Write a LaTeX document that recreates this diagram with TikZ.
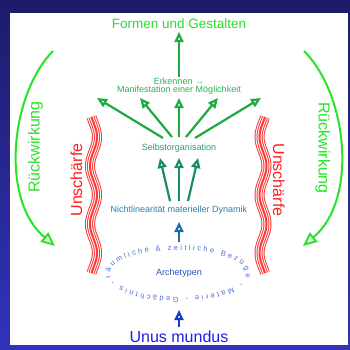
\documentclass[tikz,border=0pt]{standalone}
\usepackage{fontspec}
\setmainfont{Liberation Sans}
\usetikzlibrary{arrows.meta,decorations.text}
\definecolor{bgtop}{RGB}{28,28,106}
\definecolor{bgbot}{RGB}{50,50,188}
\definecolor{rgreen}{RGB}{40,228,40}
\definecolor{cform}{RGB}{45,220,45}
\definecolor{cerk}{RGB}{40,180,80}
\definecolor{carr}{RGB}{30,170,65}
\definecolor{cselb}{RGB}{45,155,110}
\definecolor{carrs}{RGB}{25,140,105}
\definecolor{cnicht}{RGB}{45,130,175}
\definecolor{carrn}{RGB}{25,110,160}
\definecolor{carch}{RGB}{45,80,190}
\definecolor{celltext}{RGB}{80,110,215}
\definecolor{carru}{RGB}{20,60,190}
\definecolor{cunus}{RGB}{30,30,232}
\definecolor{cred}{RGB}{255,30,30}
\definecolor{wred}{RGB}{255,55,55}
\begin{document}
\begin{tikzpicture}[x=1pt,y=-1pt,
  lbl/.style={inner sep=0pt, anchor=base},
  small/.style={font=\fontsize{9}{11}\selectfont},
  big/.style={font=\fontsize{16}{19}\selectfont},
  arr/.style={line width=2.2pt, -{Triangle[length=10pt,width=9pt,fill=white]}},
  rueck/.style={draw=rgreen, line width=2pt, -{Triangle[length=14pt,width=12pt,fill=white]}}]
\useasboundingbox (0,0) rectangle (350,349);
\shade[top color=bgtop, bottom color=bgbot] (0,0) rectangle (350,349);
\fill[white] (10,13) rectangle (348,345);

% texts
\node[lbl, font=\fontsize{13.5}{16}\selectfont, text=cform] (formen) at (179,28) {Formen und Gestalten};
\node[lbl, small, text=cerk] (erk) at (179,84) {Erkennen →};
\node[lbl, small, text=cerk] (man) at (179,92.5) {Manifestation einer Möglichkeit};
\node[lbl, small, text=cselb] (selb) at (179,150) {Selbstorganisation};
\node[lbl, small, text=cnicht] (nicht) at (179,212.5) {Nichtlinearität materieller Dynamik};
\node[lbl, small, text=carch] (arch) at (179,275.5) {Archetypen};
\node[lbl, big, text=cunus] (unus) at (179,342) {Unus mundus};
\node[lbl, big, rotate=90, text=cred] (unsL) at (82,180) {Unschärfe};
\node[lbl, big, rotate=-90, text=cred] (unsR) at (273,180) {Unschärfe};
\node[lbl, big, rotate=90, text=rgreen] (rueL) at (39.5,147) {Rückwirkung};
\node[lbl, big, rotate=-90, text=rgreen] (rueR) at (318.5,148) {Rückwirkung};

% connector end points
\coordinate (fb) at (179,77);  \coordinate (ft) at (179,32);
\coordinate (b1) at (163,138); \coordinate (t1) at (97,98);
\coordinate (b2) at (172,137); \coordinate (t2) at (140,98);
\coordinate (b3) at (179,137); \coordinate (t3) at (179,98);
\coordinate (b4) at (186,137); \coordinate (t4) at (218,98);
\coordinate (b5) at (195,138); \coordinate (t5) at (261,98);
\coordinate (n1) at (170,201); \coordinate (s1) at (160,158);
\coordinate (n2) at (179,201); \coordinate (s2) at (179,158);
\coordinate (n3) at (188,201); \coordinate (s3) at (198,158);
\coordinate (ab) at (179,242); \coordinate (at) at (179,222);
\coordinate (ub) at (179,327); \coordinate (ut) at (179,310);
\coordinate (lA) at (53,51);   \coordinate (lB) at (55,246);
\coordinate (rA) at (304,51);  \coordinate (rB) at (303,246);

% arrows
\draw[arr, draw=carr] (fb) -- (ft);
\foreach \i in {1,...,5} \draw[arr, draw=carr] (b\i) -- (t\i);
\foreach \i in {1,2,3} \draw[arr, draw=carrs] (n\i) -- (s\i);
\draw[arr, draw=carrn] (ab) -- (at);
\draw[arr, draw=carru] (ub) -- (ut);

% Rueckwirkung arcs
\draw[rueck] (lA) .. controls (10,95) and (0,200) .. (lB);
\draw[rueck] (rA) .. controls (348,95) and (358,200) .. (rB);

% wavy bands
\foreach \w/\c in {10/wred,8/white,6/wred,4/white,2/wred}{
  \draw[draw=\c, line width=\w pt] plot[domain=117:273, samples=120]
     ({93.5+3.5*cos(6.2069*(\x-137))}, \x);
  \draw[draw=\c, line width=\w pt] plot[domain=117:273, samples=120]
     ({263-3.5*cos(6.2069*(\x-137))}, \x);
}

% text around the ellipse
\path[decorate, decoration={text along path,
   text={|\fontsize{7.5}{9}\selectfont\color{celltext}|räumliche {\&} zeitliche Bezüge - Materie - Gedächtnis -},
   text align={fit to path}}]
   plot[domain=170:522, samples=160] ({178+68*cos(\x)}, {273.5+23.5*sin(\x)});
\end{tikzpicture}
\end{document}
